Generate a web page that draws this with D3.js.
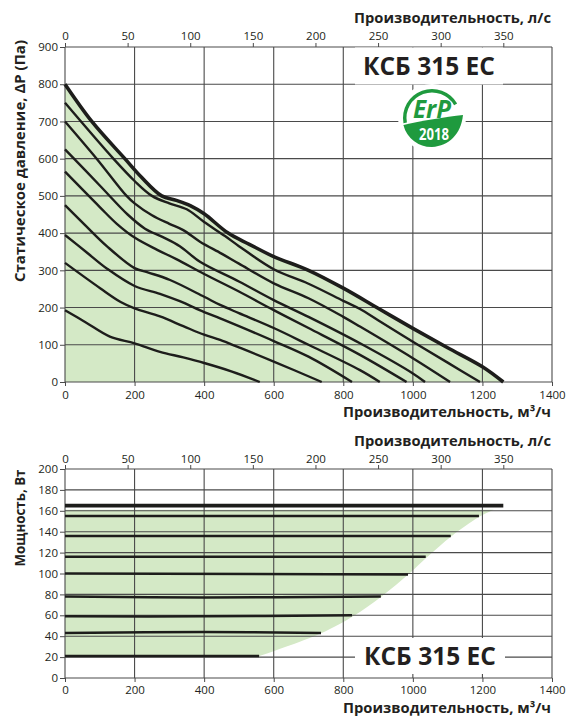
<!DOCTYPE html>
<html>
<head>
<meta charset="utf-8">
<script src="https://cdn.jsdelivr.net/npm/d3@7"></script>
<style>
  body { margin: 0; background: #fff; }
  text { font-family: "Open Sans", sans-serif; fill: #231f20; }
</style>
</head>
<body>
<div id="chart"></div>
<script>
// Tick values
const flowTicks = [0, 200, 400, 600, 800, 1000, 1200, 1400];      // м3/ч
const lpsTicks = [0, 50, 100, 150, 200, 250, 300, 350];             // л/с
const pressureTicks = [0, 100, 200, 300, 400, 500, 600, 700, 800, 900];
const powerTicks = [0, 20, 40, 60, 80, 100, 120, 140, 160, 180, 200];

// Pressure curves [м3/ч, Па], outer curve first
const pressureMax = [[0,800],[77,700],[172,600],[220,550],[278,500],[320,488],[360,474],[400,452],[469,400],[530,370],[600,337],[700,300],[800,252],[900,198],[1000,144],[1100,92],[1200,41],[1260,0]];
const pressure1 = [[0,750],[139,600],[200,540],[250,500],[300,480],[350,464],[400,430],[460,392],[500,365],[600,303],[700,264],[800,218],[848,196],[900,166],[1000,108],[1100,52],[1193,0]];
const pressure2 = [[0,700],[91,600],[177,500],[200,480],[250,448],[300,425],[340,408],[388,377],[450,345],[500,318],[600,265],[700,225],[800,175],[848,149],[1000,64],[1107,0]];
const pressure3 = [[0,625],[100,528],[180,450],[230,412],[280,390],[330,365],[388,323],[500,270],[600,220],[700,175],[848,104],[1000,23],[1035,0]];
const pressure4 = [[0,565],[100,470],[149,425],[200,388],[265,355],[320,330],[400,290],[500,243],[600,193],[700,145],[848,73],[982,0]];
const pressure5 = [[0,475],[57,422],[120,365],[200,306],[240,294],[302,274],[400,229],[446,207],[500,185],[600,145],[700,100],[848,32],[905,0]];
const pressure6 = [[0,395],[60,350],[120,305],[200,258],[273,237],[330,217],[400,188],[446,171],[500,150],[600,110],[700,68],[825,0]];
const pressure7 = [[0,320],[101,252],[160,215],[200,198],[273,176],[340,150],[400,127],[446,113],[500,93],[600,55],[738,0]];
const pressure8 = [[0,193],[60,160],[129,122],[200,104],[273,81],[340,66],[400,51],[480,28],[560,0]];

// Power lines [м3/ч, Вт], top line first
const powerMax = [[0,165],[600,165],[1260,165]];
const power1 = [[0,155],[1190,155]];
const power2 = [[0,136],[1109,136]];
const power3 = [[0,116],[1037,116]];
const power4 = [[0,100],[986,99]];
const power5 = [[0,78],[400,77],[908,78]];
const power6 = [[0,59],[400,59],[825,60]];
const power7 = [[0,43],[400,44],[736,43]];
const power8 = [[0,21],[300,21],[558,21]];
// Edge of the shaded working zone on the power chart
const powerZone = [[1232,161],[1190,154],[1112,136],[1042,116],[990,100],[910,78],[828,59],[738,43],[560,21]];

const modelName = 'КСБ 315 ЕС';

const width = 569;
const height = 717;
const fillGreen = '#d4e9c6';
const gridColor = '#4a4a4a';

const svg = d3.select('#chart')
    .append('svg')
    .attr('width', width)
    .attr('height', height);

const x = d3.scaleLinear().domain([0, 1400]).range([65, 552]);
const xL = d3.scaleLinear().domain([0, 1400 / 3.6]).range([65, 552]);
const yP = d3.scaleLinear().domain([0, 900]).range([382, 47]);
const yW = d3.scaleLinear().domain([0, 200]).range([678, 469]);

const smooth = d3.curveCatmullRom.alpha(0.5);
const plain = d => String(d);

function grid(g, y, yTicks) {
    g.append('g').selectAll('line')
        .data(yTicks).enter().append('line')
        .attr('x1', x(0)).attr('x2', x(1400))
        .attr('y1', d => y(d)).attr('y2', d => y(d))
        .attr('stroke', gridColor).attr('stroke-width', 1.1);
    g.append('g').selectAll('line')
        .data(flowTicks).enter().append('line')
        .attr('x1', d => x(d)).attr('x2', d => x(d))
        .attr('y1', y.range()[0]).attr('y2', y.range()[1])
        .attr('stroke', gridColor).attr('stroke-width', 1.1);
}

function axes(g, y, yTicks, bottomPad, topPad) {
    const y0 = y.range()[0], y1 = y.range()[1];
    const aLeft = g.append('g').attr('transform', `translate(${x(0)},0)`)
        .call(d3.axisLeft(y).tickValues(yTicks).tickFormat(plain).tickSize(5).tickPadding(2));
    const aBottom = g.append('g').attr('transform', `translate(0,${y0})`)
        .call(d3.axisBottom(x).tickValues(flowTicks).tickFormat(plain).tickSize(4).tickPadding(bottomPad));
    const aTop = g.append('g').attr('transform', `translate(0,${y1})`)
        .call(d3.axisTop(xL).tickValues(lpsTicks).tickFormat(plain).tickSize(4).tickPadding(topPad));
    [aLeft, aBottom, aTop].forEach(a => {
        a.select('.domain').remove();
        a.selectAll('line').attr('stroke', gridColor);
        a.selectAll('text').attr('font-family', '"Open Sans", sans-serif')
            .attr('font-size', 11.5).attr('fill', '#231f20');
    });
}

function title(txt, xPos, yPos, len, anchor, rotate) {
    const t = svg.append('text')
        .attr('font-weight', 'bold')
        .attr('font-size', 15)
        .attr('text-anchor', anchor)
        .attr('textLength', len)
        .attr('lengthAdjust', 'spacingAndGlyphs')
        .text(txt);
    if (rotate) t.attr('transform', `translate(${xPos},${yPos}) rotate(-90)`);
    else t.attr('x', xPos).attr('y', yPos);
}

function modelBox(cx, cy, w, h) {
    svg.append('rect')
        .attr('x', cx - w / 2).attr('y', cy - h / 2)
        .attr('width', w).attr('height', h)
        .attr('fill', '#fff');
    svg.append('text')
        .attr('x', cx).attr('y', cy + 9)
        .attr('text-anchor', 'middle')
        .attr('font-weight', 'bold')
        .attr('font-size', 25)
        .attr('textLength', 132)
        .attr('lengthAdjust', 'spacingAndGlyphs')
        .text(modelName);
}

// ---------- pressure chart ----------
const pressChart = svg.append('g');

const area = d3.area()
    .x(d => x(d[0])).y0(yP(0)).y1(d => yP(d[1]))
    .curve(smooth);
pressChart.append('path')
    .datum(pressureMax)
    .attr('d', area)
    .attr('fill', fillGreen);

grid(pressChart, yP, pressureTicks);

const lineP = d3.line().x(d => x(d[0])).y(d => yP(d[1])).curve(smooth);
const pressureCurves = [pressure8, pressure7, pressure6, pressure5, pressure4, pressure3, pressure2, pressure1];
pressChart.append('g').selectAll('path')
    .data(pressureCurves).enter().append('path')
    .attr('d', lineP)
    .attr('fill', 'none')
    .attr('stroke', '#1d1d1b')
    .attr('stroke-width', 2.4);
pressChart.append('path')
    .datum(pressureMax)
    .attr('d', lineP)
    .attr('fill', 'none')
    .attr('stroke', '#1d1d1b')
    .attr('stroke-width', 3.6);

axes(pressChart, yP, pressureTicks, 5, 3);

modelBox(429, 66, 148, 37);

// ErP 2018 badge
const badgeGreen = '#1f9a3e';
const badge = svg.append('g').attr('transform', 'translate(432,118)');
badge.append('circle').attr('r', 34).attr('fill', '#fff');
badge.append('path')
    .attr('d', d3.arc().innerRadius(25.5).outerRadius(29)
        .startAngle(-1.75).endAngle(1.05)())
    .attr('fill', badgeGreen);
badge.append('path')
    .attr('d', 'M -28.6,7 C -12,3 14,-1 31,-3 C 29,16 17,28 0,29 A 29 29 0 0 1 -28.6,7 Z')
    .attr('fill', badgeGreen);
badge.append('text')
    .attr('x', 0).attr('y', 0)
    .attr('text-anchor', 'middle')
    .attr('font-weight', 'bold')
    .attr('font-style', 'italic')
    .attr('font-size', 25)
    .attr('textLength', 38)
    .attr('lengthAdjust', 'spacingAndGlyphs')
    .style('fill', badgeGreen)
    .text('ErP');
badge.append('text')
    .attr('x', 2).attr('y', 22)
    .attr('text-anchor', 'middle')
    .attr('font-weight', 'bold')
    .attr('font-size', 16)
    .attr('textLength', 30)
    .attr('lengthAdjust', 'spacingAndGlyphs')
    .style('fill', '#fff')
    .text('2018');

title('Производительность, л/с', 551, 23, 197, 'end', false);
title('Производительность, м³/ч', 551, 417, 208, 'end', false);
title('Статическое давление, ΔP (Па)', 25, 161, 242, 'middle', true);

// ---------- power chart ----------
const powChart = svg.append('g');

const zoneLine = d3.line().x(d => x(d[0])).y(d => yW(d[1])).curve(smooth);
const zonePath = `M${x(0)},${yW(21)}L${x(0)},${yW(161)}` + zoneLine(powerZone).replace(/^M/, 'L') + 'Z';
powChart.append('path').attr('d', zonePath).attr('fill', fillGreen);

grid(powChart, yW, powerTicks);

const lineW = d3.line().x(d => x(d[0])).y(d => yW(d[1])).curve(smooth);
const powerLines = [power8, power7, power6, power5, power4, power3, power2, power1];
powChart.append('g').selectAll('path')
    .data(powerLines).enter().append('path')
    .attr('d', lineW)
    .attr('fill', 'none')
    .attr('stroke', '#1d1d1b')
    .attr('stroke-width', 2.5);
powChart.append('path')
    .datum(powerMax)
    .attr('d', lineW)
    .attr('fill', 'none')
    .attr('stroke', '#1d1d1b')
    .attr('stroke-width', 3.6);

axes(powChart, yW, powerTicks, 4, 2);

modelBox(430, 656, 150, 36);

title('Производительность, л/с', 551, 446, 197, 'end', false);
title('Производительность, м³/ч', 551, 713, 208, 'end', false);
title('Мощность, Вт', 25, 518, 97, 'middle', true);
</script>
</body>
</html>
